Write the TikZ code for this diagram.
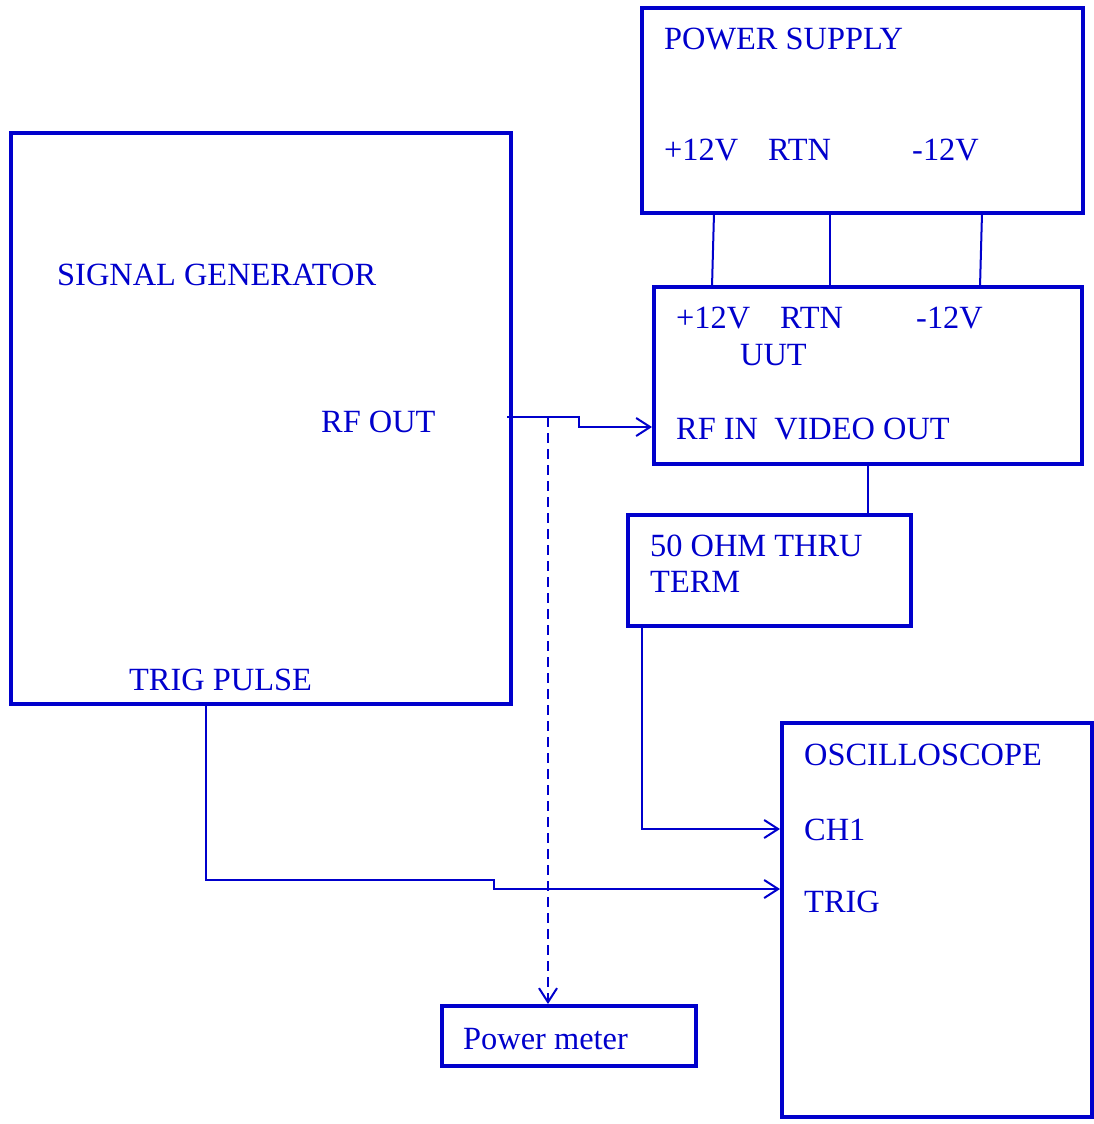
\documentclass[tikz,border=0pt]{standalone}
\usepackage{fontspec}
\setmainfont{Liberation Serif}
\usetikzlibrary{arrows.meta}
\definecolor{bl}{HTML}{0000CC}
\begin{document}
\begin{tikzpicture}[x=1pt,y=-1pt,
  box/.style={draw=bl,line width=3.5pt,rectangle,inner sep=0pt,outer sep=0pt,anchor=north west},
  lbl/.style={text=bl,font=\fontsize{32.4}{38}\selectfont,anchor=base west,inner sep=0pt},
  wire/.style={draw=bl,line width=2pt},
  arr/.style={wire,-{Straight Barb[length=14pt,width=18pt,line width=2pt]}}]
\useasboundingbox (0,0) rectangle (1094,1124);
% boxes
\node[box,minimum width=500pt,minimum height=571pt] (sg) at (11,133) {};
\node[box,minimum width=441pt,minimum height=205pt] (ps) at (642,8) {};
\node[box,minimum width=428pt,minimum height=177pt] (uut) at (654,287) {};
\node[box,minimum width=283pt,minimum height=111pt] (term) at (628,515) {};
\node[box,minimum width=310pt,minimum height=394pt] (osc) at (782,723) {};
\node[box,minimum width=254pt,minimum height=60pt] (pm) at (442,1006) {};
% labels
\node[lbl] (tps) at (664,49) {POWER SUPPLY};
\node[lbl] (tp12) at (664,160) {+12V};
\node[lbl] (tprtn) at (768,160) {RTN};
\node[lbl] (tpm12) at (912,160) {-12V};
\node[lbl] (tsg) at (57,285) {SIGNAL GENERATOR};
\node[lbl] (trf) at (321,432) {RF OUT};
\node[lbl] (ttp) at (129,690) {TRIG PULSE};
\node[lbl] (tu12) at (676,328) {+12V};
\node[lbl] (turtn) at (780,328) {RTN};
\node[lbl] (tum12) at (916,328) {-12V};
\node[lbl] (tuut) at (740,365) {UUT};
\node[lbl] (trfin) at (676,439) {RF IN\ \ VIDEO OUT};
\node[lbl] (tterm1) at (650,556) {50 OHM THRU};
\node[lbl] (tterm2) at (650,592) {TERM};
\node[lbl] (tosc) at (804,765) {OSCILLOSCOPE};
\node[lbl] (tch1) at (804,840) {CH1};
\node[lbl] (ttrig) at (804,912) {TRIG};
\node[lbl] (tpm) at (463,1049) {Power meter};
% coordinates
\coordinate (p1a) at (714,213); \coordinate (p1b) at (712,287);
\coordinate (p2a) at (830,213); \coordinate (p2b) at (830,287);
\coordinate (p3a) at (982,213); \coordinate (p3b) at (980,287);
\coordinate (rfs) at (507,417);
\coordinate (rfe) at (652,427);
\coordinate (dj) at (548,417);
\coordinate (pmt) at (548,1004);
\coordinate (ut) at (868,464); \coordinate (tt) at (868,515);
\coordinate (tb) at (642,626); \coordinate (ch1e) at (780,829);
\coordinate (sgb) at (206,704); \coordinate (trige) at (780,889);
% wires
\draw[wire] (p1a) -- (p1b);
\draw[wire] (p2a) -- (p2b);
\draw[wire] (p3a) -- (p3b);
\draw[arr] (rfs) -- (579,417) -- (579,427) -- (rfe);
\draw[arr,dashed,dash pattern=on 10pt off 6pt] (dj) -- (pmt);
\draw[wire] (ut) -- (tt);
\draw[arr] (tb) |- (ch1e);
\draw[arr] (sgb) -- (206,880) -- (494,880) -- (494,889) -- (trige);
\end{tikzpicture}
\end{document}
